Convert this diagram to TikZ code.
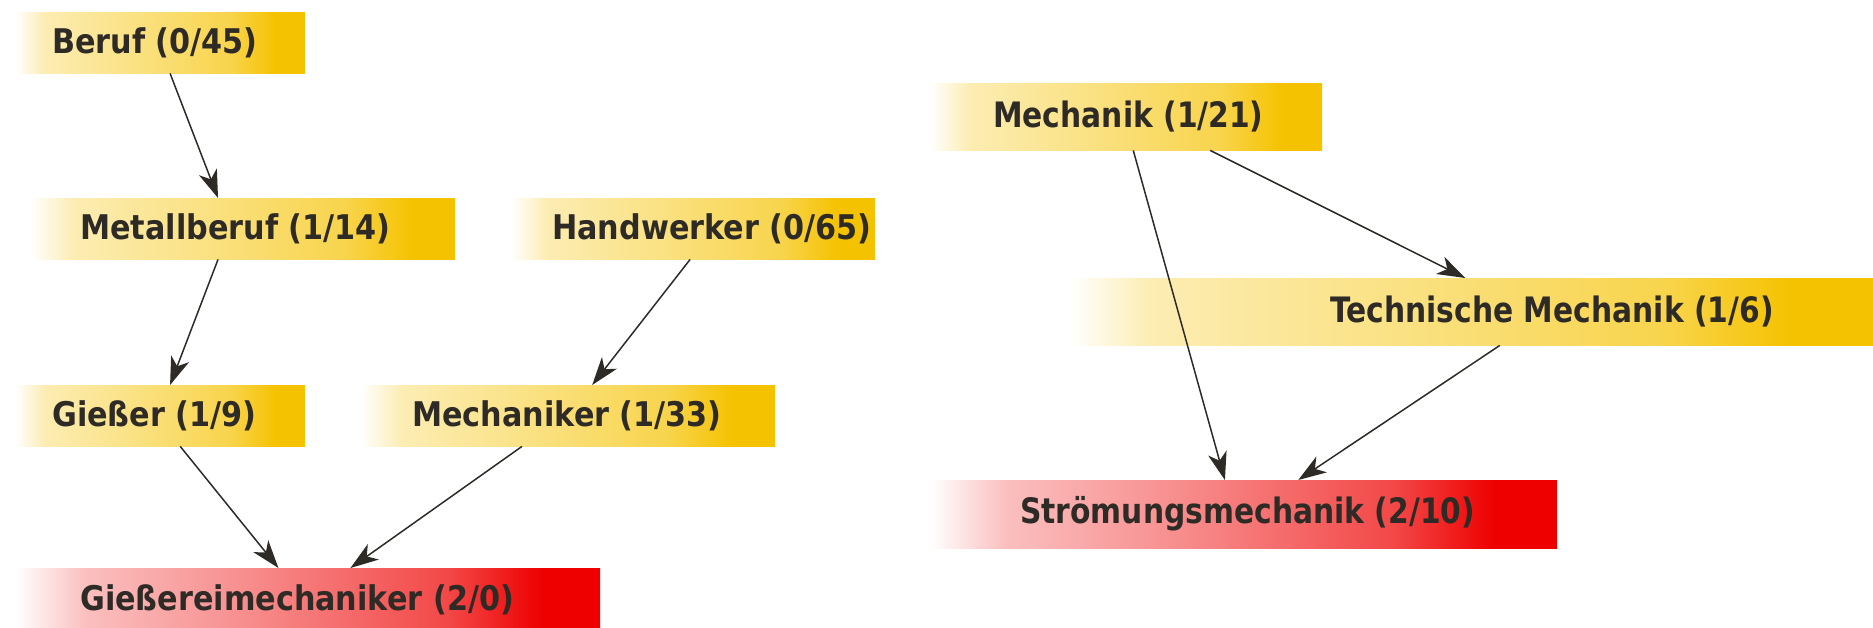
\documentclass[tikz,border=0pt]{standalone}
\usepackage{fontspec}
\setmainfont{DejaVu Sans}
\newfontfamily\leftfont[FakeStretch=0.89]{DejaVu Sans Bold}
\newfontfamily\rightfont[FakeStretch=0.85]{DejaVu Sans Bold}
\usetikzlibrary{calc,arrows.meta}
\definecolor{gold}{HTML}{F5C200}
\definecolor{rred}{HTML}{EE0000}
\definecolor{txt}{HTML}{2E2A26}
\pgfdeclarehorizontalshading{yshade}{100bp}{color(0bp)=(white); color(25bp)=(white); color(30bp)=(gold!30); color(45bp)=(gold!48); color(62bp)=(gold!70); color(70bp)=(gold); color(100bp)=(gold)}
\pgfdeclarehorizontalshading{rshade}{100bp}{color(0bp)=(white); color(25bp)=(white); color(31bp)=(rred!25); color(45bp)=(rred!45); color(62bp)=(rred!72); color(70bp)=(rred); color(100bp)=(rred)}
\tikzset{
  base/.style={anchor=north west, inner sep=0pt, draw=none, text=txt},
  ybox/.style={base, shading=yshade},
  rbox/.style={base, shading=rshade},
  lt/.style={font=\leftfont\fontsize{34}{34}\selectfont},
  rt/.style={font=\rightfont\fontsize{35}{35}\selectfont},
  arr/.style={draw=txt, line width=1.5pt, -{Stealth[length=28pt,width=19pt,inset=8pt]}}
}
\newcommand{\bx}[3]{\makebox[#1pt][l]{\hspace*{#2pt}#3}}
\begin{document}
\begin{tikzpicture}[x=1pt,y=-1pt]
\useasboundingbox (0,0) rectangle (1873,628);
\node[ybox, lt, minimum height=61pt] (beruf) at (15,12) {\bx{290}{37}{Beruf (0/45)}};
\node[ybox, lt, minimum height=61pt] (metall) at (30,198) {\bx{425}{50}{Metallberuf (1/14)}};
\node[ybox, lt, minimum height=61pt] (hand) at (510,198) {\bx{365}{42}{Handwerker (0/65)}};
\node[ybox, lt, minimum height=61pt] (giess) at (15,385) {\bx{290}{37}{Gießer (1/9)}};
\node[ybox, lt, minimum height=61pt] (mechr) at (360,385) {\bx{415}{52}{Mechaniker (1/33)}};
\node[rbox, lt, minimum height=64pt] (gmech) at (15,568) {\bx{585}{65}{Gießereimechaniker (2/0)}};
\node[ybox, rt, minimum height=67pt] (mechk) at (930,83) {\bx{392}{63}{Mechanik (1/21)}};
\node[ybox, rt, minimum height=67pt] (tech) at (1070,278) {\bx{803}{260}{Technische Mechanik (1/6)}};
\node[rbox, rt, minimum height=68pt] (stroem) at (930,480) {\bx{627}{90}{Strömungsmechanik (2/10)}};

\draw[arr] ($(beruf.south west)!0.534!(beruf.south east)$) -- ($(metall.north west)!0.442!(metall.north east)$);
\draw[arr] ($(metall.south west)!0.442!(metall.south east)$) -- ($(giess.north west)!0.534!(giess.north east)$);
\draw[arr] ($(hand.south west)!0.493!(hand.south east)$) -- ($(mechr.north west)!0.559!(mechr.north east)$);
\draw[arr] ($(giess.south west)!0.569!(giess.south east)$) -- ($(gmech.north west)!0.45!(gmech.north east)$);
\draw[arr] ($(mechr.south west)!0.39!(mechr.south east)$) -- ($(gmech.north west)!0.573!(gmech.north east)$);
\draw[arr] ($(mechk.south west)!0.518!(mechk.south east)$) -- ($(stroem.north west)!0.47!(stroem.north east)$);
\draw[arr] ($(mechk.south west)!0.714!(mechk.south east)$) -- ($(tech.north west)!0.492!(tech.north east)$);
\draw[arr] ($(tech.south west)!0.535!(tech.south east)$) -- ($(stroem.north west)!0.587!(stroem.north east)$);
\end{tikzpicture}
\end{document}
